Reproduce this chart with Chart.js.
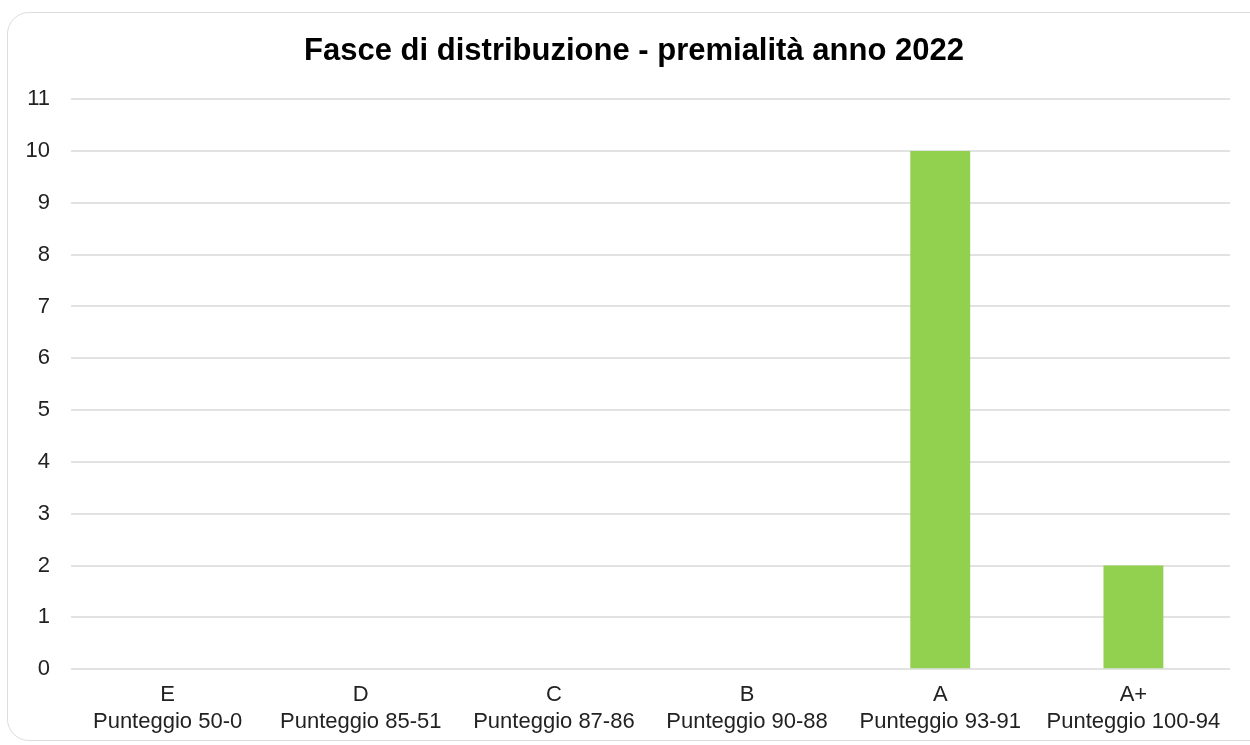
<!DOCTYPE html>
<html>
<head>
<meta charset="utf-8">
<script src="https://cdn.jsdelivr.net/npm/chart.js@4"></script>
<style>
  body { margin: 0; background: #fff; }
  #card {
    position: absolute; left: 7px; top: 12px; width: 1280px; height: 729px;
    border: 1px solid #dcdcdc; border-radius: 22px; box-sizing: border-box;
  }
  #wrap { position: absolute; left: 0; top: 0; width: 1250px; height: 745px; }
</style>
</head>
<body>
<div id="card"></div>
<div id="wrap"><canvas id="myChart"></canvas></div>
<script>
// fasce e valori
var fasce = ['E', 'D', 'C', 'B', 'A', 'A+'];
var punteggi = ['Punteggio 50-0', 'Punteggio 85-51', 'Punteggio 87-86', 'Punteggio 90-88', 'Punteggio 93-91', 'Punteggio 100-94'];
var valori = [0, 0, 0, 0, 10, 2];
var yTicks = [0, 1, 2, 3, 4, 5, 6, 7, 8, 9, 10, 11];

var labels = fasce.map(function (f, i) { return [f, punteggi[i]]; });

new Chart(document.getElementById('myChart'), {
  type: 'bar',
  data: {
    labels: labels,
    datasets: [{
      label: 'Premialità 2022',
      data: valori,
      backgroundColor: '#92d050',
      borderWidth: 0,
      barPercentage: 0.62,
      categoryPercentage: 0.5
    }]
  },
  options: {
    responsive: true,
    maintainAspectRatio: false,
    animation: false,
    layout: { padding: { left: 21, right: 3, top: 33, bottom: -3 } },
    plugins: {
      legend: { display: false },
      tooltip: { enabled: false },
      title: {
        display: true,
        text: 'Fasce di distribuzione - premialità anno 2022',
        color: '#000',
        font: { family: 'Liberation Sans, Arial', size: 31, weight: 'bold' },
        padding: { top: 0, bottom: 29 }
      }
    },
    scales: {
      x: {
        grid: { display: false, drawTicks: false },
        border: { display: false },
        ticks: {
          color: '#222',
          font: { family: 'Liberation Sans, Arial', size: 22 },
          padding: 13,
          maxRotation: 0,
          autoSkip: false
        }
      },
      y: {
        min: 0,
        max: yTicks[yTicks.length - 1],
        afterFit: function (scale) { scale.width = 50; },
        grid: { color: '#e2e2e2', lineWidth: 2, drawTicks: false },
        border: { display: false },
        ticks: {
          stepSize: 1,
          color: '#222',
          font: { family: 'Liberation Sans, Arial', size: 22 },
          padding: 21
        }
      },
      // spazio vuoto a destra
      yRight: {
        position: 'right',
        min: 0,
        max: yTicks[yTicks.length - 1],
        afterFit: function (scale) { scale.width = 17; },
        grid: { display: false, drawTicks: false },
        border: { display: false },
        ticks: { display: false }
      }
    }
  }
});
</script>
</body>
</html>
